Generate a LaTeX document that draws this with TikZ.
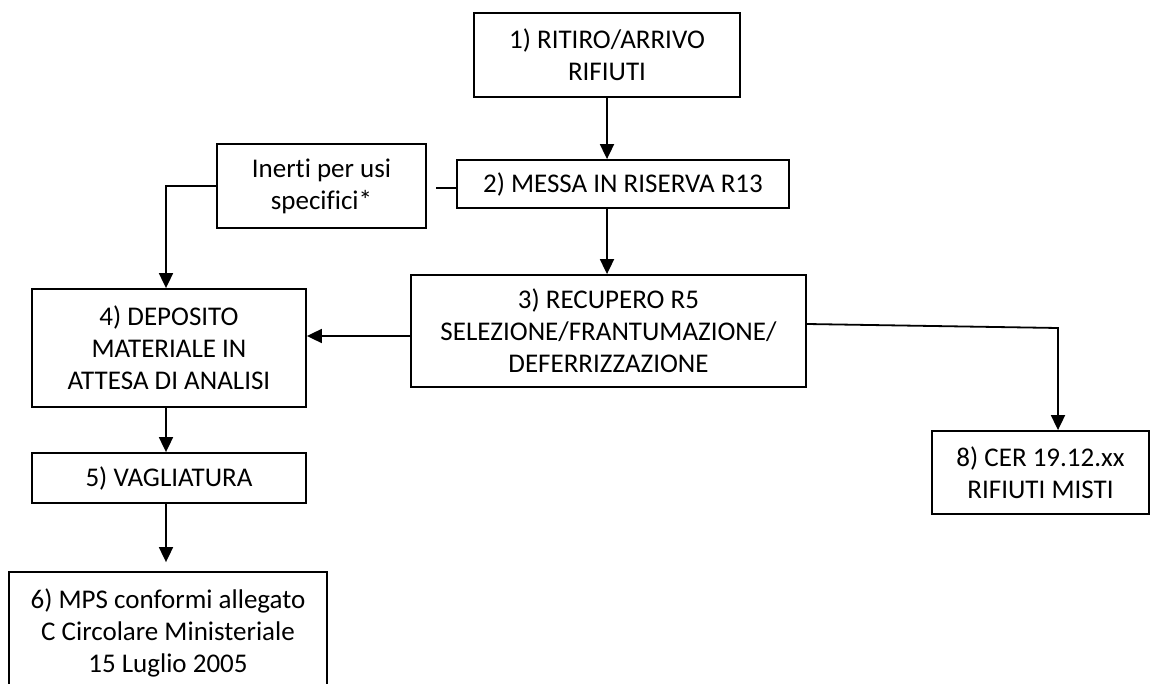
\documentclass[tikz,border=0pt]{standalone}
\usepackage{fontspec}
\setmainfont{Carlito}[Ligatures=NoCommon]
\usetikzlibrary{arrows.meta}
\begin{document}
\begin{tikzpicture}[x=1pt,y=-1pt,
  box/.style={draw=black, line width=1.8pt, rectangle, inner sep=0pt, align=center,
    font=\fontsize{27}{32}\selectfont},
  conn/.style={line width=1.8pt},
  arr/.style={line width=1.8pt, -{Triangle[length=15pt,width=14pt]}}]
\useasboundingbox (0,0) rectangle (1150,684);
\node[box, minimum width=266pt, minimum height=84pt] (b1) at (607,55) {1) RITIRO/ARRIVO\\RIFIUTI};
\node[box, minimum width=332pt, minimum height=48pt] (b2) at (623,184) {2) MESSA IN RISERVA R13};
\node[box, minimum width=209pt, minimum height=84pt] (in) at (321.5,186) {Inerti per usi\\specifici*};
\node[box, minimum width=395pt, minimum height=112pt] (b3) at (608.5,331) {3) RECUPERO R5\\SELEZIONE/FRANTUMAZIONE/\\DEFERRIZZAZIONE};
\node[box, minimum width=274pt, minimum height=118pt] (b4) at (169,348) {4) DEPOSITO\\MATERIALE IN\\ATTESA DI ANALISI};
\node[box, minimum width=274pt, minimum height=50pt] (b5) at (169,478) {5) VAGLIATURA};
\node[box, minimum width=318pt, minimum height=122pt] (b6) at (168,633) {6) MPS conformi allegato\\C Circolare Ministeriale\\15 Luglio 2005};
\node[box, minimum width=217pt, minimum height=83pt] (b8) at (1040.5,472.5) {8) CER 19.12.xx\\RIFIUTI MISTI};

\coordinate (stub) at (436,188);
\coordinate (turn8) at (1058,328);
\coordinate (lft) at (166,0);

\draw[arr] (b1.south) -- (b1.south |- b2.north);
\draw[arr] (b1.south |- b2.south) -- (b1.south |- b3.north);
\draw[conn] (b2.west |- stub) -- (stub);
\draw[arr] (in.west) -| (lft |- b4.north);
\draw[arr] ([yshift=-5pt]b3.west) -- ([yshift=-5pt]b3.west -| b4.east);
\draw[arr] (lft |- b4.south) -- (lft |- b5.north);
\draw[arr, shorten >=9pt] (lft |- b5.south) -- (lft |- b6.north);
\draw[arr] ([yshift=7pt]b3.east) -- (turn8) -- (turn8 |- b8.north);
\end{tikzpicture}
\end{document}
